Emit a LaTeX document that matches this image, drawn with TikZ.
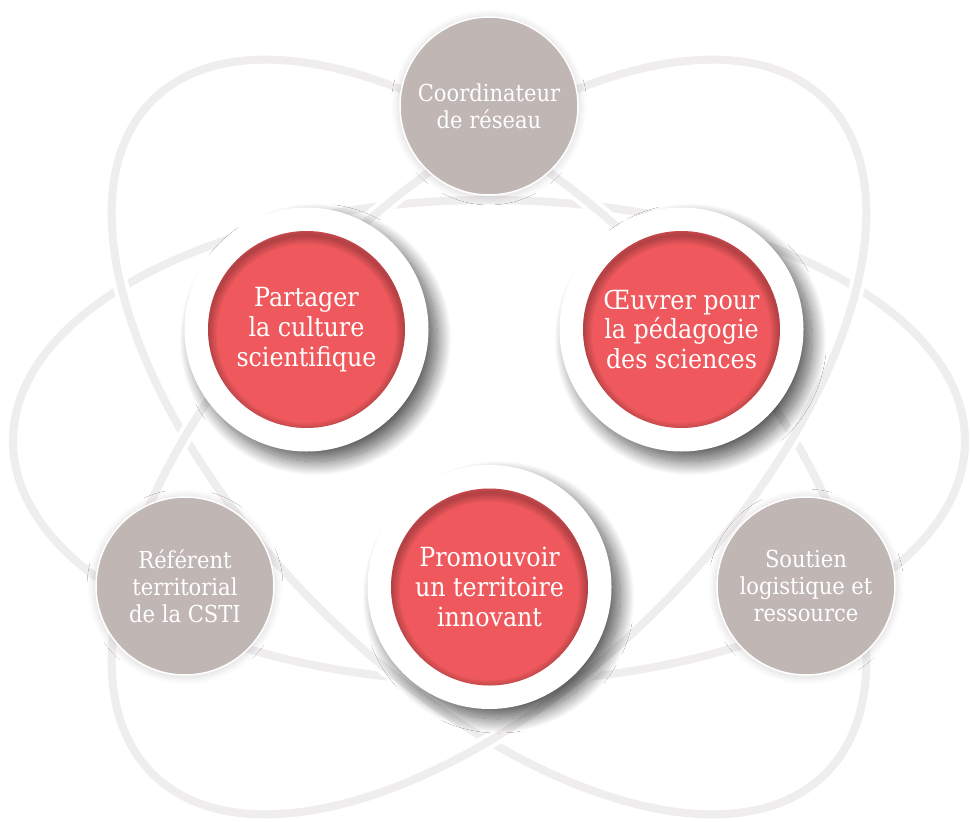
\documentclass[tikz,border=0pt]{standalone}
\usepackage{fontspec}
\setmainfont{DejaVu Serif Condensed}
\usetikzlibrary{shadows.blur}

\definecolor{orbitgray}{RGB}{239,237,237}
\definecolor{rolegray}{RGB}{192,182,180}
\definecolor{missionred}{RGB}{239,89,93}

\begin{document}
\begin{tikzpicture}[x=1bp,y=-1bp,
  orbit/.style={draw=orbitgray, line width=8bp},
  orbitgap/.style={draw=white, line width=16bp},
  role/.style={circle, fill=rolegray, draw=white, line width=1.5bp,
    minimum size=178bp, inner sep=0pt, align=center, text=white,
    font=\fontsize{23.5}{27}\selectfont,
    blur shadow={shadow xshift=0bp, shadow yshift=-1bp, shadow scale=1.02,
      shadow blur steps=16, shadow blur radius=7bp, shadow opacity=14}},
  haloring/.style={circle, fill=white, minimum size=244bp, inner sep=0pt,
    blur shadow={shadow xshift=9bp, shadow yshift=-10bp, shadow blur steps=24,
      shadow blur radius=14bp, shadow opacity=65}},
  mission/.style={circle, fill=missionred, minimum size=197bp, inner sep=0pt,
    align=center, text=white, font=\fontsize{26.5}{30}\selectfont,
    path picture={
      \foreach \w in {3,6,...,18}
        \draw[black, opacity=0.045, line width=\w bp]
          ([yshift=-4bp]path picture bounding box.center) circle (98.5bp);
    }}]
\useasboundingbox (0,0) rectangle (971,822);

% Orbits
\foreach \ang/\cy in {0/441, -45/437, 45/437} {
  \draw[orbitgap, rotate around={\ang:(489,\cy)}] (489,\cy) ellipse [x radius=476, y radius=241];
  \draw[orbit, rotate around={\ang:(489,\cy)}] (489,\cy) ellipse [x radius=476, y radius=241];
}

% Roles
\node[role] (coord) at (489,106) {Coordinateur\\de réseau};
\node[role] (referent) at (185,586) {Référent\\territorial\\de la CSTI};
\node[role] (soutien) at (806,586) {Soutien\\logistique et\\ressource};

% Missions
\node[haloring] (ringPartager) at (306.5,329.5) {};
\node[mission] (partager) at (ringPartager) {Partager\\la culture\\scientifique};

\node[haloring] (ringOeuvrer) at (681.5,329.5) {};
\node[mission] (oeuvrer) at (ringOeuvrer) {Œuvrer pour\\la pédagogie\\des sciences};

\node[haloring] (ringPromouvoir) at (489.5,587) {};
\node[mission] (promouvoir) at (ringPromouvoir) {Promouvoir\\un territoire\\innovant};
\end{tikzpicture}
\end{document}
